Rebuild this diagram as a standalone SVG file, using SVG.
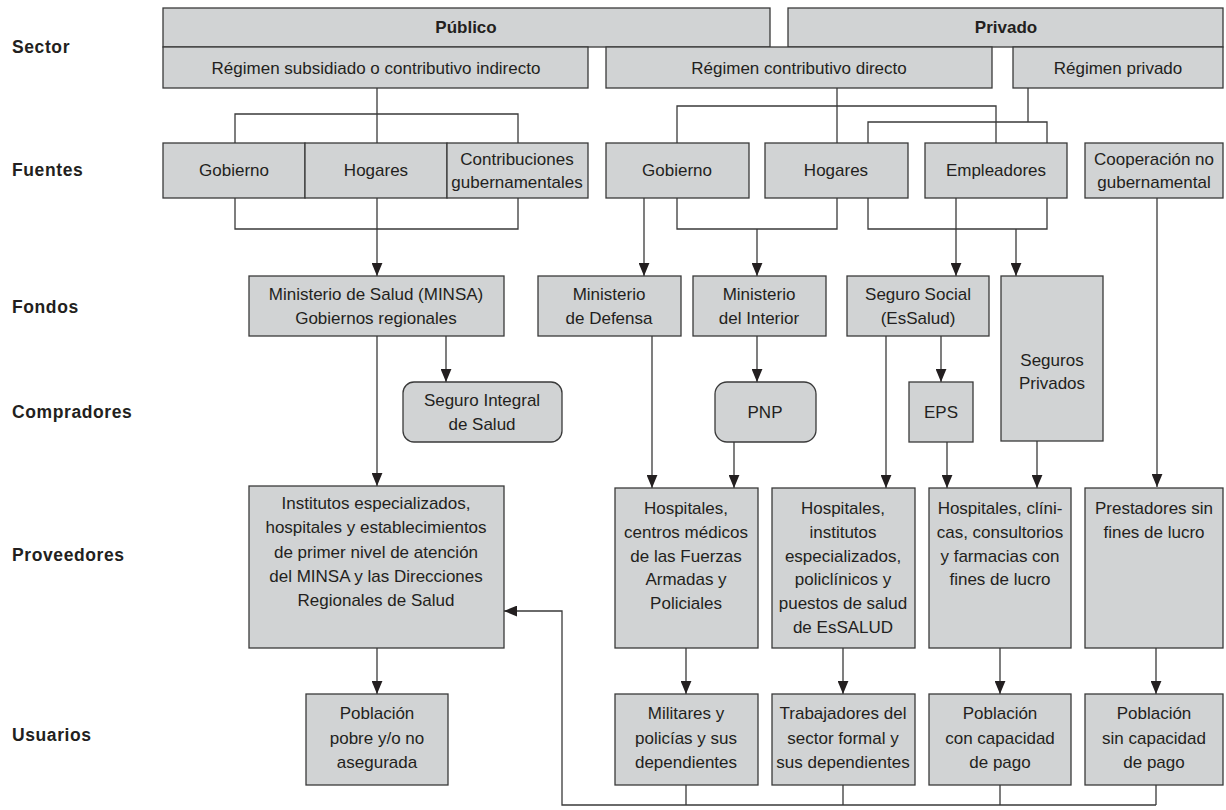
<svg xmlns="http://www.w3.org/2000/svg" width="1226" height="810" viewBox="0 0 1226 810">
<style>
.box{fill:#d1d3d4;stroke:#3a3a3a;stroke-width:1.3}
.t{font-family:"Liberation Sans",Arial,sans-serif;font-size:17px;fill:#231f20;text-anchor:middle}
.b{font-weight:bold}
.lbl{font-family:"Liberation Sans",Arial,sans-serif;font-size:17.5px;font-weight:bold;fill:#231f20;letter-spacing:0.6px}
.c{fill:none;stroke:#3a3a3a;stroke-width:1.3}
.a{marker-end:url(#ah)}
</style>
<defs>
<marker id="ah" viewBox="0 0 12 10" refX="12" refY="5" markerWidth="13" markerHeight="11" markerUnits="userSpaceOnUse" orient="auto">
<path d="M0,0 L12,5 L0,10 z" fill="#231f20"/>
</marker>
</defs>
<rect width="1226" height="810" fill="#ffffff"/>

<g id="labels">
<text class="lbl" x="12" y="53">Sector</text>
<text class="lbl" x="12" y="176">Fuentes</text>
<text class="lbl" x="12" y="313">Fondos</text>
<text class="lbl" x="12" y="418">Compradores</text>
<text class="lbl" x="12" y="561">Proveedores</text>
<text class="lbl" x="12" y="741">Usuarios</text>
</g>

<g id="connectors">
<path class="c" d="M377,88 V143 M235,143 V114 H518 V143"/>
<path class="c" d="M837,88 V143 M677,143 V106 H996 V143"/>
<path class="c" d="M1028,88 V122 M868,143 V122 H1047 V143"/>
<path class="c" d="M235,198 V229 H518 V198"/>
<path class="c a" d="M377,198 V276"/>
<path class="c a" d="M644,198 V276"/>
<path class="c" d="M677,198 V229 H837 V198"/>
<path class="c a" d="M757,229 V276"/>
<path class="c" d="M868,198 V229 H1047 V198"/>
<path class="c a" d="M1016,229 V276"/>
<path class="c a" d="M956,198 V276"/>
<path class="c a" d="M1157,198 V487"/>
<path class="c a" d="M446,336 V382"/>
<path class="c a" d="M377,336 V486"/>
<path class="c a" d="M652,336 V488"/>
<path class="c a" d="M757,336 V382"/>
<path class="c a" d="M734,442 V488"/>
<path class="c a" d="M886,336 V488"/>
<path class="c a" d="M941,336 V382"/>
<path class="c a" d="M947,442 V488"/>
<path class="c a" d="M1037,441 V488"/>
<path class="c a" d="M377,648 V694"/>
<path class="c a" d="M686,648 V694"/>
<path class="c a" d="M843,648 V694"/>
<path class="c a" d="M1000,648 V694"/>
<path class="c a" d="M1156,648 V694"/>
<path class="c" d="M686,785 V805 M843,785 V805 M1000,785 V805 M1156,785 V805"/>
<path class="c a" d="M1156,805 H562 V611 H504"/>
</g>

<g id="publico"><rect class="box" x="163" y="8" width="607" height="39"/><text class="t b" x="466" y="33">Público</text></g>
<g id="privado"><rect class="box" x="788" y="8" width="435" height="39"/><text class="t b" x="1006" y="33">Privado</text></g>
<g id="reg-subsidiado"><rect class="box" x="163" y="47" width="425" height="41"/><text class="t" x="376" y="74">Régimen subsidiado o contributivo indirecto</text></g>
<g id="reg-contributivo"><rect class="box" x="606" y="47" width="386" height="41"/><text class="t" x="799" y="74">Régimen contributivo directo</text></g>
<g id="reg-privado"><rect class="box" x="1013" y="47" width="210" height="41"/><text class="t" x="1118" y="74">Régimen privado</text></g>

<g id="f-gobierno-pub"><rect class="box" x="163" y="143" width="142" height="55"/><text class="t" x="234" y="176">Gobierno</text></g>
<g id="f-hogares-pub"><rect class="box" x="305" y="143" width="142" height="55"/><text class="t" x="376" y="176">Hogares</text></g>
<g id="f-contrib-gub"><rect class="box" x="447" y="143" width="141" height="55"/><text class="t" x="517" y="165">Contribuciones</text><text class="t" x="517" y="188">gubernamentales</text></g>
<g id="f-gobierno"><rect class="box" x="606" y="143" width="143" height="55"/><text class="t" x="677" y="176">Gobierno</text></g>
<g id="f-hogares"><rect class="box" x="765" y="143" width="143" height="55"/><text class="t" x="836" y="176">Hogares</text></g>
<g id="f-empleadores"><rect class="box" x="925" y="143" width="142" height="55"/><text class="t" x="996" y="176">Empleadores</text></g>
<g id="f-cooperacion"><rect class="box" x="1085" y="143" width="138" height="55"/><text class="t" x="1154" y="165">Cooperación no</text><text class="t" x="1154" y="188">gubernamental</text></g>

<g id="minsa"><rect class="box" x="249" y="276" width="255" height="60"/><text class="t" x="376" y="300">Ministerio de Salud (MINSA)</text><text class="t" x="376" y="324">Gobiernos regionales</text></g>
<g id="defensa"><rect class="box" x="538" y="276" width="143" height="60"/><text class="t" x="609" y="300">Ministerio</text><text class="t" x="609" y="324">de Defensa</text></g>
<g id="interior"><rect class="box" x="693" y="276" width="133" height="60"/><text class="t" x="759" y="300">Ministerio</text><text class="t" x="759" y="324">del Interior</text></g>
<g id="essalud"><rect class="box" x="847" y="276" width="142" height="60"/><text class="t" x="918" y="300">Seguro Social</text><text class="t" x="918" y="324">(EsSalud)</text></g>
<g id="seguros-privados"><rect class="box" x="1001" y="276" width="102" height="165"/><text class="t" x="1052" y="366">Seguros</text><text class="t" x="1052" y="389">Privados</text></g>

<g id="sis"><rect class="box" x="403" y="382" width="159" height="60" rx="11"/><text class="t" x="482" y="406">Seguro Integral</text><text class="t" x="482" y="430">de Salud</text></g>
<g id="pnp"><rect class="box" x="715" y="382" width="101" height="60" rx="12"/><text class="t" x="765" y="418">PNP</text></g>
<g id="eps"><rect class="box" x="909" y="382" width="64" height="60"/><text class="t" x="941" y="418">EPS</text></g>

<g id="p-minsa"><rect class="box" x="249" y="486" width="255" height="162"/>
<text class="t" x="376" y="509">Institutos especializados,</text>
<text class="t" x="376" y="533">hospitales y establecimientos</text>
<text class="t" x="376" y="558">de primer nivel de atención</text>
<text class="t" x="376" y="582">del MINSA y las Direcciones</text>
<text class="t" x="376" y="606">Regionales de Salud</text></g>
<g id="p-ffaa"><rect class="box" x="615" y="488" width="143" height="160"/>
<text class="t" x="686" y="514">Hospitales,</text>
<text class="t" x="686" y="538">centros médicos</text>
<text class="t" x="686" y="562">de las Fuerzas</text>
<text class="t" x="686" y="585">Armadas y</text>
<text class="t" x="686" y="609">Policiales</text></g>
<g id="p-essalud"><rect class="box" x="772" y="488" width="143" height="160"/>
<text class="t" x="843" y="514">Hospitales,</text>
<text class="t" x="843" y="538">institutos</text>
<text class="t" x="843" y="562">especializados,</text>
<text class="t" x="843" y="585">policlínicos y</text>
<text class="t" x="843" y="609">puestos de salud</text>
<text class="t" x="843" y="633">de EsSALUD</text></g>
<g id="p-lucro"><rect class="box" x="929" y="488" width="142" height="160"/>
<text class="t" x="1000" y="514">Hospitales, clíni-</text>
<text class="t" x="1000" y="538">cas, consultorios</text>
<text class="t" x="1000" y="562">y farmacias con</text>
<text class="t" x="1000" y="585">fines de lucro</text></g>
<g id="p-sinlucro"><rect class="box" x="1085" y="488" width="138" height="160"/>
<text class="t" x="1154" y="514">Prestadores sin</text>
<text class="t" x="1154" y="538">fines de lucro</text></g>

<g id="u-pobre"><rect class="box" x="306" y="694" width="142" height="91"/>
<text class="t" x="377" y="719">Población</text><text class="t" x="377" y="744">pobre y/o no</text><text class="t" x="377" y="768">asegurada</text></g>
<g id="u-militares"><rect class="box" x="615" y="694" width="143" height="91"/>
<text class="t" x="686" y="719">Militares y</text><text class="t" x="686" y="744">policías y sus</text><text class="t" x="686" y="768">dependientes</text></g>
<g id="u-trabajadores"><rect class="box" x="772" y="694" width="143" height="91"/>
<text class="t" x="843" y="719">Trabajadores del</text><text class="t" x="843" y="744">sector formal y</text><text class="t" x="843" y="768">sus dependientes</text></g>
<g id="u-con"><rect class="box" x="929" y="694" width="142" height="91"/>
<text class="t" x="1000" y="719">Población</text><text class="t" x="1000" y="744">con capacidad</text><text class="t" x="1000" y="768">de pago</text></g>
<g id="u-sin"><rect class="box" x="1085" y="694" width="138" height="91"/>
<text class="t" x="1154" y="719">Población</text><text class="t" x="1154" y="744">sin capacidad</text><text class="t" x="1154" y="768">de pago</text></g>
</svg>
